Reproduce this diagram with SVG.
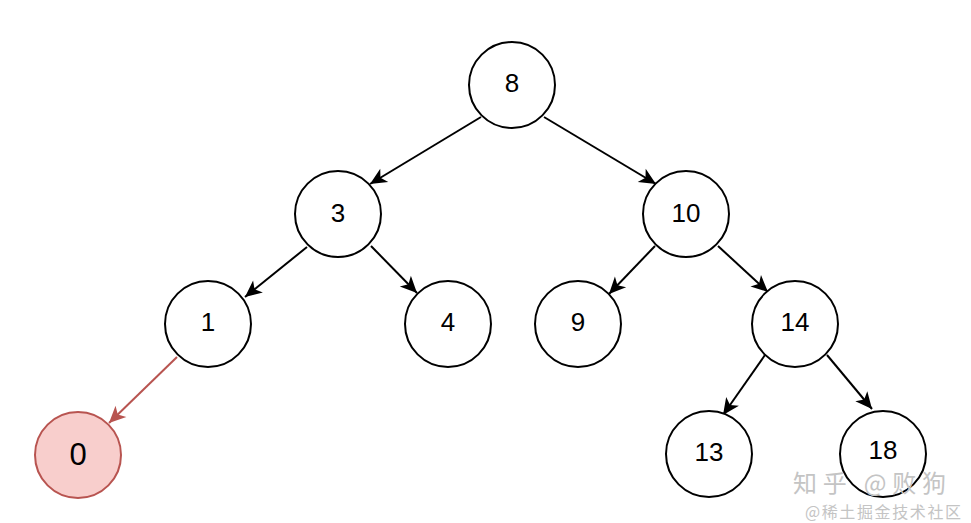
<svg xmlns="http://www.w3.org/2000/svg" width="971" height="523" viewBox="0 0 971 523">
<style>
.n circle{fill:#fff;stroke:#000;stroke-width:2}
.n text{font-family:"Liberation Sans",Arial,sans-serif;font-size:26px;fill:#000;text-anchor:middle;dominant-baseline:central}
.e{stroke:#000;stroke-width:2;fill:none;marker-end:url(#ab)}
.er{stroke:#b85450;stroke-width:2;fill:none;marker-end:url(#ar)}
.wm{font-family:"Noto Sans CJK SC","Noto Sans",sans-serif;fill:#c4c4c4}
</style>
<defs>
<marker id="ab" markerUnits="userSpaceOnUse" markerWidth="20" markerHeight="20" viewBox="-16 -8 18 16" refX="0" refY="0" orient="auto">
<path d="M0,0 L-15,-7 L-11,0 L-15,7 Z" fill="#000"/>
</marker>
<marker id="ar" markerUnits="userSpaceOnUse" markerWidth="20" markerHeight="20" viewBox="-16 -8 18 16" refX="0" refY="0" orient="auto">
<path d="M0,0 L-15,-7 L-11,0 L-15,7 Z" fill="#b85450"/>
</marker>
</defs>
<rect width="971" height="523" fill="#fff"/>
<g id="edges">
<line class="e" x1="481" y1="117" x2="370" y2="184"/>
<line class="e" x1="544" y1="117" x2="656" y2="184"/>
<line class="e" x1="307" y1="247" x2="245" y2="297"/>
<line class="e" x1="371" y1="246" x2="417" y2="293"/>
<line class="e" x1="655" y1="246" x2="609" y2="294"/>
<line class="e" x1="718" y1="246" x2="768" y2="292"/>
<line class="e" x1="765" y1="355" x2="723" y2="415"/>
<line class="e" x1="827" y1="355" x2="872" y2="409"/>
<line class="er" x1="177" y1="357" x2="109" y2="423"/>
</g>
<g id="n8" class="n"><circle cx="512" cy="85" r="43"/><text x="512" y="83">8</text></g>
<g id="n3" class="n"><circle cx="338" cy="214" r="43"/><text x="338" y="213">3</text></g>
<g id="n10" class="n"><circle cx="686" cy="214" r="43"/><text x="686" y="213">10</text></g>
<g id="n1" class="n"><circle cx="208" cy="324" r="43"/><text x="208" y="322">1</text></g>
<g id="n4" class="n"><circle cx="448" cy="324" r="43"/><text x="448" y="322">4</text></g>
<g id="n9" class="n"><circle cx="578" cy="324" r="43"/><text x="578" y="322">9</text></g>
<g id="n14" class="n"><circle cx="795" cy="324" r="43"/><text x="795" y="322">14</text></g>
<g id="n0" class="n"><circle cx="78" cy="455" r="43" style="fill:#f8cecc;stroke:#b85450"/><text x="78" y="454" style="font-size:31px">0</text></g>
<g id="n13" class="n"><circle cx="709" cy="454" r="43"/><text x="709" y="452">13</text></g>
<g id="n18" class="n"><circle cx="883" cy="454" r="43"/><text x="883" y="450">18</text></g>
<g id="watermark">
<text class="wm" x="793" y="492" font-size="24" textLength="153" lengthAdjust="spacing">知乎 @败狗</text>
<text class="wm" x="805" y="518" font-size="16" textLength="156" lengthAdjust="spacing">@稀土掘金技术社区</text>
</g>
</svg>
